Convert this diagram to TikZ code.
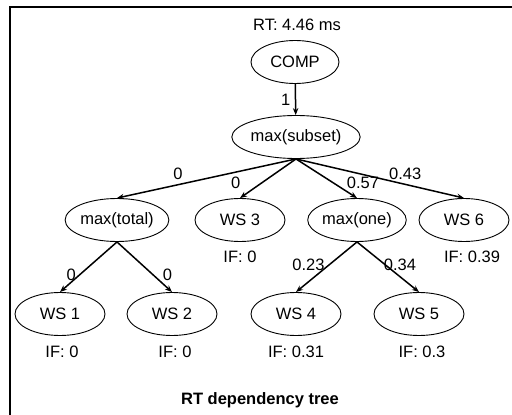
\documentclass[tikz,border=0pt]{standalone}
\usepackage{fontspec}
\setmainfont{Liberation Sans}
\usetikzlibrary{shapes.geometric,arrows.meta}

\begin{document}
\begin{tikzpicture}[x=1pt, y=-1pt,
	font=\fontsize{16.5}{19}\selectfont,
	ws/.style={draw, ellipse, minimum width=90pt, minimum height=43pt, inner sep=0pt, line width=0.9pt},
	dep/.style={line width=1.5pt, -{Stealth[length=7pt,width=5.5pt]}}]
	\useasboundingbox (0,0) rectangle (512,415);
	% Rahmen
	\draw[line width=1.2pt] (10,415) -- (10,7) -- (512,7);

	% Wurzel
	\node (rt) at (297,25) {RT: 4.46 ms};
	\node[ws, minimum width=88pt] (comp) at (295,62) {COMP};
	\node[ws, minimum width=100pt] (subset) at (296,137) {max(subset)};
	\draw[dep] (comp) -- node[midway, left=1pt] {1} (subset);

	% zweite Ebene
	\node[ws] (total) at (117,220) {max(total)};
	\node[ws] (ws3) at (240,220) {WS 3};
	\node[ws] (one) at (357,220) {max(one)};
	\node[ws] (ws6) at (464,220) {WS 6};
	\draw[dep] (subset.south) -- node[pos=0.66, above=1pt] {0} (total.north);
	\draw[dep] (subset.south) -- node[pos=0.62, left=17pt] {0} (ws3.north);
	\draw[dep] (subset.south) -- node[pos=0.62, right=9pt] {0.57} (one.north);
	\draw[dep] (subset.south) -- node[pos=0.65, above=1pt] {0.43} (ws6.north);
	\node (if3) at (240,257) {IF: 0};
	\node (if6) at (472,257) {IF: 0.39};

	% Blaetter
	\foreach \x/\n in {60/1, 172/2, 296/4, 419/5}
		\node[ws] (ws\n) at (\x,314) {WS \n};
	\draw[dep] (total.south) -- node[pos=0.65, left=0pt] {0} (ws1.north);
	\draw[dep] (total.south) -- node[pos=0.65, right=6pt] {0} (ws2.north);
	\draw[dep] (one.south) -- node[pos=0.45, left=1pt] {0.23} (ws4.north);
	\draw[dep] (one.south) -- node[pos=0.45, right=-5pt] {0.34} (ws5.north);
	\foreach \x/\n/\v in {62/1/0, 175/2/0, 296/4/0.31, 422/5/0.3}
		\node (if\n) at (\x,352) {IF: \v};

	% Titel
	\node[font=\fontsize{16.5}{19}\selectfont\bfseries] (title) at (260,400) {RT dependency tree};
\end{tikzpicture}
\end{document}
